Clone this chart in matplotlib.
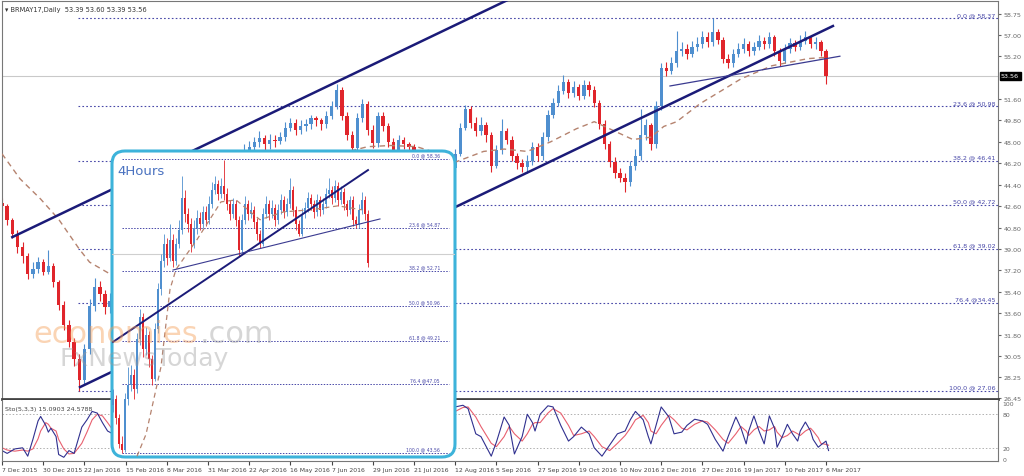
import matplotlib.pyplot as plt
import matplotlib.transforms as mtransforms
from matplotlib.patches import FancyBboxPatch

plt.rcParams['font.family'] = ['DejaVu Sans']

# ---------------- daily BRMAY17 (candles of 2 sessions, x = session index from 7 Dec 2015)
first_open = 42.9
closes = [42.6, 41.4, 40.3, 39.2, 38.4, 36.9, 37.3, 37.9, 37.1, 37.6,
          36.2, 34.3, 32.6, 31.2, 29.8, 28.0, 30.6, 34.2, 35.8, 35.2,
          34.1, 34.6, 33.5, 32.8, 32.0, 33.2, 34.8, 35.5, 36.8, 38.0,
          39.2, 39.8, 40.6, 40.2, 41.0, 40.5, 41.8, 42.6, 42.0, 43.2,
          44.1, 44.8, 45.3, 45.9, 46.3, 46.0, 46.8, 47.3, 47.6, 48.0,
          48.3, 47.8, 48.2, 48.1, 48.4, 49.2, 49.6, 49.0, 49.3, 49.5,
          50.0, 49.8, 49.5, 50.2, 51.0, 52.4, 50.2, 48.6, 47.5, 50.0,
          51.2, 49.0, 47.9, 50.2, 49.3, 48.0, 47.2, 48.2, 47.8, 47.6,
          46.5, 45.8, 45.1, 44.8, 44.2, 44.5, 45.2, 45.8, 47.0, 49.2,
          50.8, 49.6, 48.9, 49.4, 48.6, 46.0, 47.3, 48.9, 48.2, 46.8,
          46.2, 45.9, 46.4, 47.6, 46.8, 48.4, 50.3, 51.3, 52.3, 53.0,
          52.1, 52.6, 51.9, 52.8, 52.4, 51.3, 49.5, 47.8, 46.3, 45.4,
          45.0, 44.6, 46.0, 46.8, 48.6, 49.4, 47.8, 51.0, 54.2, 54.0,
          54.6, 55.6, 55.8, 55.4, 56.0, 56.2, 56.8, 56.4, 57.2, 56.6,
          55.0, 54.6, 55.4, 55.8, 56.2, 55.6, 56.0, 56.5, 56.2, 56.8,
          55.6, 54.8, 55.8, 56.3, 56.0, 56.5, 56.8, 56.2, 56.4, 55.6,
          53.56]
highs = [43.3, 42.8, 41.6, 40.6, 39.6, 38.7, 37.9, 38.3, 38.2, 38.9,
         37.8, 36.4, 34.6, 33.0, 31.5, 30.2, 31.0, 34.8, 36.6, 36.3,
         35.6, 35.3, 35.0, 33.9, 33.1, 33.6, 35.2, 36.0, 37.2, 38.5,
         39.6, 40.3, 41.0, 41.0, 41.4, 41.3, 42.2, 43.0, 42.9, 43.6,
         44.5, 45.2, 45.7, 46.3, 46.8, 46.7, 47.2, 47.8, 48.1, 48.4,
         48.9, 48.6, 48.7, 48.6, 48.8, 49.7, 50.0, 49.9, 49.8, 49.9,
         50.3, 50.2, 50.0, 50.6, 51.4, 52.9, 52.6, 50.5, 48.9, 50.4,
         51.6, 51.4, 49.4, 50.5, 50.5, 49.6, 48.3, 48.6, 48.4, 48.0,
         47.8, 46.8, 46.1, 45.4, 45.1, 44.9, 45.6, 46.2, 47.4, 49.6,
         51.1, 51.0, 50.1, 50.1, 49.7, 48.8, 47.7, 49.9, 49.2, 48.5,
         47.1, 46.6, 46.9, 48.0, 47.9, 48.8, 50.7, 51.7, 52.8, 53.6,
         53.3, 53.1, 52.9, 53.2, 53.1, 52.7, 51.5, 49.8, 48.1, 46.7,
         45.8, 45.4, 46.4, 47.4, 50.8, 49.9, 49.6, 51.4, 54.6, 54.7,
         55.1, 57.3, 56.4, 56.2, 56.5, 56.8, 57.3, 57.2, 58.37, 57.5,
         56.8, 55.4, 55.8, 56.3, 56.7, 56.5, 56.4, 57.0, 56.8, 57.2,
         57.0, 55.9, 56.2, 56.7, 56.6, 57.0, 57.3, 57.0, 56.8, 56.6,
         55.8]
lows = [42.2, 41.0, 39.9, 38.7, 37.8, 36.5, 36.6, 37.0, 36.8, 36.9,
        35.8, 33.9, 32.2, 30.8, 29.2, 27.1, 27.6, 30.2, 33.8, 34.6,
        33.5, 33.6, 33.0, 32.2, 31.4, 31.7, 32.9, 34.4, 35.2, 36.5,
        37.7, 38.8, 39.5, 39.7, 39.9, 40.0, 40.2, 41.5, 41.6, 41.8,
        42.9, 43.8, 44.5, 45.0, 45.5, 45.6, 45.7, 46.5, 46.9, 47.2,
        47.6, 47.3, 47.4, 47.6, 47.8, 48.1, 48.9, 48.6, 48.7, 48.9,
        49.1, 49.3, 49.0, 49.2, 49.9, 50.8, 49.8, 48.2, 47.2, 47.3,
        49.7, 48.6, 47.5, 47.6, 48.9, 47.6, 46.8, 46.9, 47.4, 47.1,
        46.1, 45.4, 44.7, 44.3, 43.8, 43.9, 44.2, 44.9, 45.5, 46.8,
        49.0, 49.2, 48.5, 48.6, 48.0, 45.5, 45.8, 47.0, 47.8, 46.4,
        45.7, 45.5, 45.4, 46.1, 46.4, 46.5, 48.1, 50.0, 51.0, 52.0,
        51.7, 51.8, 51.5, 51.6, 51.9, 50.9, 49.1, 47.4, 45.9, 45.0,
        44.6, 43.8, 44.3, 45.6, 46.5, 48.2, 47.3, 47.5, 50.7, 53.5,
        53.7, 54.3, 55.2, 55.0, 55.1, 55.6, 55.9, 56.0, 56.1, 56.2,
        54.6, 54.2, 54.3, 55.1, 55.5, 55.2, 55.3, 55.7, 55.8, 55.9,
        55.2, 54.4, 54.6, 55.5, 55.6, 55.7, 56.2, 55.9, 55.8, 55.2,
        52.9]

ma_bar = [0, 7, 15, 22, 30, 34, 42, 57, 77, 96,
          116, 131, 142, 151, 161, 170, 176, 187, 195, 204,
          213, 223, 230, 236, 245, 252, 257, 262, 271, 287,
          299, 313, 320]
ma_val = [47.0, 44.9, 43.2, 41.5, 39.0, 37.9, 36.9, 36.0, 38.5, 42.0,
          45.0, 47.0, 47.6, 47.7, 47.6, 47.0, 46.3, 47.2, 47.4, 47.2,
          48.0, 49.1, 49.7, 49.1, 48.2, 48.4, 49.3, 49.7, 51.2, 53.3,
          54.4, 55.0, 55.1]

fib_levels = [58.37, 50.98, 46.41, 42.72, 39.02, 34.45, 27.06]
fib_labels = ['0.0 @ 58.37', '23.6 @ 50.98', '38.2 @ 46.41', '50.0 @ 42.72',
              '61.8 @ 39.02', '76.4 @34.45', '100.0 @ 27.06']
fib_start_bar = 29.5

y_ticks = [58.75, 57.00, 55.20, 51.60, 49.80, 48.00, 46.20, 44.40, 42.60,
           40.80, 39.00, 37.20, 35.40, 33.60, 31.80, 30.05, 28.25, 26.45]
last_price = 53.56

date_labels = ['7 Dec 2015', '30 Dec 2015', '22 Jan 2016', '15 Feb 2016', '8 Mar 2016',
               '31 Mar 2016', '22 Apr 2016', '16 May 2016', '7 Jun 2016', '29 Jun 2016',
               '21 Jul 2016', '12 Aug 2016', '5 Sep 2016', '27 Sep 2016', '19 Oct 2016',
               '10 Nov 2016', '2 Dec 2016', '27 Dec 2016', '19 Jan 2017', '10 Feb 2017',
               '6 Mar 2017']

channel_up_x, channel_up_y = [4, 200], [40.0, 60.3]
channel_dn_x, channel_dn_y = [30.3, 322.7], [27.4, 57.74]
neck_x, neck_y = [259.4, 325.4], [52.7, 55.2]

# stochastic (5,3,3)
stoch_bar = [0, 2, 5, 8, 10, 12, 14, 15, 17, 18,
             19, 21, 22, 24, 26, 28, 31, 33, 35, 37,
             39, 41, 43, 60, 80, 100, 120, 140, 160, 176,
             179, 181, 184, 186, 190, 192, 195, 197, 199, 202,
             204, 206, 207, 209, 212, 214, 217, 220, 222, 225,
             228, 230, 233, 236, 239, 242, 244, 246, 249, 251,
             252, 254, 256, 259, 261, 264, 266, 269, 272, 274,
             277, 280, 282, 285, 287, 289, 290, 292, 294, 296,
             298, 300, 301, 303, 305, 307, 309, 310, 312, 314,
             315, 317, 318, 320, 321]
stoch_k = [15, 10, 18, 20, 5, 35, 68, 76, 60, 48,
           55, 40, 8, 3, 15, 10, 57, 70, 85, 82,
           65, 50, 45, 50, 50, 50, 50, 50, 60, 93,
           96, 90, 45, 40, 5, 30, 75, 60, 9, 40,
           80, 65, 50, 80, 95, 93, 60, 32, 40, 57,
           45, 20, 5, 25, 45, 50, 70, 85, 70, 40,
           27, 60, 93, 75, 45, 48, 60, 71, 68, 62,
           35, 14, 40, 75, 55, 27, 50, 77, 50, 27,
           77, 55, 21, 40, 62, 45, 32, 50, 66, 50,
           35, 21, 25, 32, 15.09]
stoch_d = [20, 16, 14, 16, 14, 18, 36, 50, 65, 62,
           55, 50, 35, 18, 9, 10, 28, 48, 70, 80,
           77, 65, 52, 50, 50, 50, 50, 50, 55, 85,
           92, 93, 75, 58, 28, 22, 40, 58, 45, 32,
           45, 62, 65, 65, 82, 90, 82, 60, 42, 45,
           50, 40, 22, 15, 28, 42, 55, 70, 78, 65,
           50, 45, 60, 78, 70, 55, 52, 62, 68, 66,
           52, 35, 28, 45, 58, 50, 42, 52, 58, 50,
           52, 58, 48, 38, 42, 50, 45, 42, 50, 55,
           50, 38, 28, 26, 24.58]

# ---------------- 4 hour inset
inset_first_open = 46.0
inset_close = [46.3, 45.3, 44.0, 43.7, 46.3, 47.0, 47.5, 46.8, 49.3, 50.4,
               48.8, 49.5, 48.3, 47.3, 49.8, 51.8, 53.2, 54.1, 53.4, 54.3,
               53.2, 54.1, 54.8, 56.4, 55.6, 55.1, 54.1, 54.9, 55.4, 55.1,
               55.7, 55.3, 56.1, 56.8, 57.1, 56.6, 57.0, 56.6, 56.1, 55.6,
               56.1, 55.3, 53.8, 55.3, 56.1, 55.6, 55.8, 55.2, 54.6, 54.1,
               55.6, 56.1, 55.6, 55.9, 55.3, 55.8, 56.3, 55.7, 56.1, 56.8,
               55.8, 55.1, 54.6, 55.6, 55.9, 56.4, 56.1, 55.7, 56.3, 55.8,
               56.1, 56.6, 56.8, 56.4, 57.0, 56.3, 56.7, 56.1, 55.8, 56.3,
               55.3, 55.1, 55.8, 56.3, 55.6, 53.1]
inset_high = [46.8, 46.5, 45.5, 44.4, 46.6, 47.9, 48.0, 47.8, 49.6, 50.8,
              50.6, 49.9, 49.7, 48.5, 50.1, 52.1, 53.6, 54.6, 54.4, 55.1,
              54.6, 54.4, 55.3, 57.5, 56.8, 55.9, 55.4, 55.3, 55.8, 55.7,
              56.0, 56.0, 56.5, 57.2, 57.5, 57.3, 57.4, 58.3, 56.9, 56.3,
              56.4, 56.3, 55.5, 55.6, 56.5, 56.3, 56.2, 56.0, 55.4, 54.8,
              55.9, 56.5, 56.3, 56.3, 56.1, 56.1, 56.6, 56.5, 56.4, 57.4,
              57.0, 56.0, 55.3, 55.9, 56.2, 56.7, 56.6, 56.3, 56.6, 56.5,
              56.4, 56.9, 57.4, 57.0, 57.3, 57.2, 57.0, 56.9, 56.3, 56.5,
              56.5, 55.5, 56.1, 56.7, 56.5, 55.8]
inset_low = [45.6, 45.0, 43.8, 43.56, 43.6, 46.0, 46.7, 46.3, 46.6, 49.0,
             48.4, 48.5, 47.9, 47.0, 47.2, 49.6, 51.5, 52.9, 53.0, 53.2,
             52.9, 53.0, 53.9, 54.6, 55.2, 54.7, 53.7, 53.9, 54.6, 54.8,
             54.9, 55.0, 55.1, 55.9, 56.6, 56.3, 56.4, 56.3, 55.8, 55.3,
             55.4, 55.0, 53.5, 53.6, 55.1, 55.3, 55.4, 54.9, 54.3, 53.9,
             54.0, 55.4, 55.3, 55.4, 55.0, 55.1, 55.6, 55.4, 55.5, 55.9,
             55.5, 54.8, 54.5, 54.5, 55.4, 55.7, 55.8, 55.4, 55.5, 55.5,
             55.6, 55.9, 56.4, 56.1, 56.2, 56.0, 56.1, 55.8, 55.5, 55.6,
             55.0, 54.9, 54.9, 55.6, 55.3, 52.9]
inset_ma_idx = [8, 11, 16, 19, 21, 28, 36, 41, 49, 57, 66, 75, 83]
inset_ma_val = [43.4, 44.5, 47.9, 51.8, 52.8, 54.3, 56.2, 56.3, 55.3, 55.7, 55.8, 56.0, 55.8]
inset_fib_levels = [58.36, 54.87, 52.71, 50.96, 49.21, 47.05, 43.56]
inset_fib_labels = ['0.0 @ 58.36', '23.6 @ 54.87', '38.2 @ 52.71', '50.0 @ 50.96',
                    '61.8 @ 49.21', '76.4 @47.05', '100.0 @ 43.56']
inset_thick_x, inset_thick_y = [0, 85], [49.15, 57.8]
inset_thin_x, inset_thin_y = [20, 89], [52.77, 55.34]

UP, DN = '#4f8fcf', '#e0252b'
FIB = '#4848a8'
NAVY = '#1b1b78'


def draw_candles(ax, xs, o, h, l, c, width, lw):
    for x, oi, hi, li, ci in zip(xs, o, h, l, c):
        col = UP if ci >= oi else DN
        ax.vlines(x, li, hi, color=col, lw=lw, zorder=2)
        ax.bar(x, max(abs(ci - oi), 0.06), bottom=min(oi, ci), width=width,
               color=col, lw=0, zorder=2)


W, H = 1024, 477
fig = plt.figure(figsize=(W / 100, H / 100), dpi=100, facecolor='white')


def box(x0, y0, x1, y1):
    return [x0 / W, 1 - y1 / H, (x1 - x0) / W, (y1 - y0) / H]


ax = fig.add_axes(box(2, 2, 998, 400))
ax_st = fig.add_axes(box(2, 401, 998, 462), sharex=ax)
ax_in = fig.add_axes(box(112, 152, 455, 458))

# ---- main panel
xs = [2 * k for k in range(len(closes))]
opens = [first_open] + closes[:-1]
ax.axhline(last_price, color='#c9c9c9', lw=0.8, zorder=1)
for lev, lab in zip(fib_levels, fib_labels):
    ax.hlines(lev, fib_start_bar, 387, color=FIB, lw=0.8, linestyles=(0, (1.5, 2)), zorder=1)
    ax.text(385.8, lev + 0.12, lab, ha='right', va='bottom', fontsize=4.6, color=FIB)
draw_candles(ax, xs, opens, highs, lows, closes, 1.3, 0.8)
ax.plot(ma_bar, ma_val, color='#b5836f', lw=1, dashes=(4, 3), zorder=3)
ax.plot(channel_up_x, channel_up_y, color=NAVY, lw=1.8, zorder=4)
ax.plot(channel_dn_x, channel_dn_y, color=NAVY, lw=1.8, zorder=4)
ax.plot(neck_x, neck_y, color='#3a3a90', lw=0.9, zorder=4)
ax.set_xlim(0, 386.8)
ax.set_ylim(26.40, 59.84)
ax.yaxis.tick_right()
ax.set_yticks(y_ticks)
ax.set_yticklabels(['%.2f' % v for v in y_ticks])
ax.tick_params(axis='y', labelsize=4.6, colors='#666', length=2.5, pad=1.5)
ax.tick_params(axis='x', bottom=False, labelbottom=False)
for s in ['left', 'top', 'right']:
    ax.spines[s].set_color('#777')
    ax.spines[s].set_linewidth(0.8)
ax.spines['bottom'].set_color('#444')
ax.spines['bottom'].set_linewidth(2)
trans = mtransforms.blended_transform_factory(ax.transAxes, ax.transData)
ax.text(1.003, last_price, '%.2f' % last_price, transform=trans, fontsize=4.6, color='white',
        va='center', ha='left', bbox=dict(fc='black', ec='black', pad=1.0))
ax.text(0.003, 0.988, '\u25be BRMAY17,Daily  53.39 53.60 53.39 53.56', transform=ax.transAxes,
        fontsize=4.8, color='#333', va='top', ha='left')

# ---- stochastic panel
for lev in (80, 20):
    ax_st.axhline(lev, color='#b0b0b0', lw=0.7, linestyle=(0, (1.5, 2)))
ax_st.plot(stoch_bar, stoch_d, color='#e8606f', lw=0.8)
ax_st.plot(stoch_bar, stoch_k, color='#30308f', lw=0.8)
ax_st.set_ylim(-3.6, 105.4)
ax_st.yaxis.tick_right()
ax_st.set_yticks([100, 80, 20, 0])
ax_st.tick_params(axis='y', labelsize=4.4, colors='#666', length=0, pad=3)
ax_st.set_xticks(list(range(0, 16 * len(date_labels), 16)))
ax_st.set_xticklabels(date_labels, ha='left')
ax_st.tick_params(axis='x', labelsize=4.4, colors='#444', length=3, pad=1.5)
ax_st.spines['top'].set_visible(False)
for s in ['left', 'right', 'bottom']:
    ax_st.spines[s].set_color('#777')
    ax_st.spines[s].set_linewidth(0.8)
ax_st.text(0.003, 0.9, 'Sto(5,3,3) 15.0903 24.5788', transform=ax_st.transAxes,
           fontsize=4.6, color='#444', va='top', ha='left')

# ---- 4 hours inset
ax_in.set_axis_off()
frame = FancyBboxPatch((1.12, 0.19), 3.43, 3.06, boxstyle='round,pad=0,rounding_size=0.13',
                       transform=fig.dpi_scale_trans, fc='white', ec='#3db3da', lw=2.2,
                       clip_on=False, zorder=0)
ax_in.add_patch(frame)
ax_in.set_xlim(-0.33, 114)
ax_in.set_ylim(43.36, 58.76)
ax_in.axhline(last_price, color='#cfcfcf', lw=0.8, zorder=1)
for lev, lab in zip(inset_fib_levels, inset_fib_labels):
    ax_in.hlines(lev, 3, 112, color=FIB, lw=0.7, linestyles=(0, (1.5, 1.5)), zorder=1)
    ax_in.text(109, lev + 0.08, lab, ha='right', va='bottom', fontsize=3.3, color=FIB)
ixs = list(range(len(inset_close)))
iopens = [inset_first_open] + inset_close[:-1]
draw_candles(ax_in, ixs, iopens, inset_high, inset_low, inset_close, 0.6, 0.6)
ax_in.plot(inset_ma_idx, inset_ma_val, color='#b5836f', lw=0.9, dashes=(4, 3), zorder=3)
ax_in.plot(inset_thick_x, inset_thick_y, color=NAVY, lw=1.4, zorder=4)
ax_in.plot(inset_thin_x, inset_thin_y, color='#3a3a90', lw=0.8, zorder=4)
ax_in.text(0.015, 0.935, '4Hours', transform=ax_in.transAxes, fontsize=9.5,
           color='#4a72c0', va='center', ha='left')

# ---- watermark
fig.text(33 / W, 1 - 343 / H, 'economies', fontsize=22, color='#f5a05a', alpha=0.45)
fig.text(200 / W, 1 - 343 / H, '.com', fontsize=22, color='#9a9a9a', alpha=0.4)
fig.text(60 / W, 1 - 366 / H, 'FxNewsToday', fontsize=18, color='#9a9a9a', alpha=0.4)

fig.savefig('out.png', dpi=100, facecolor='white')
